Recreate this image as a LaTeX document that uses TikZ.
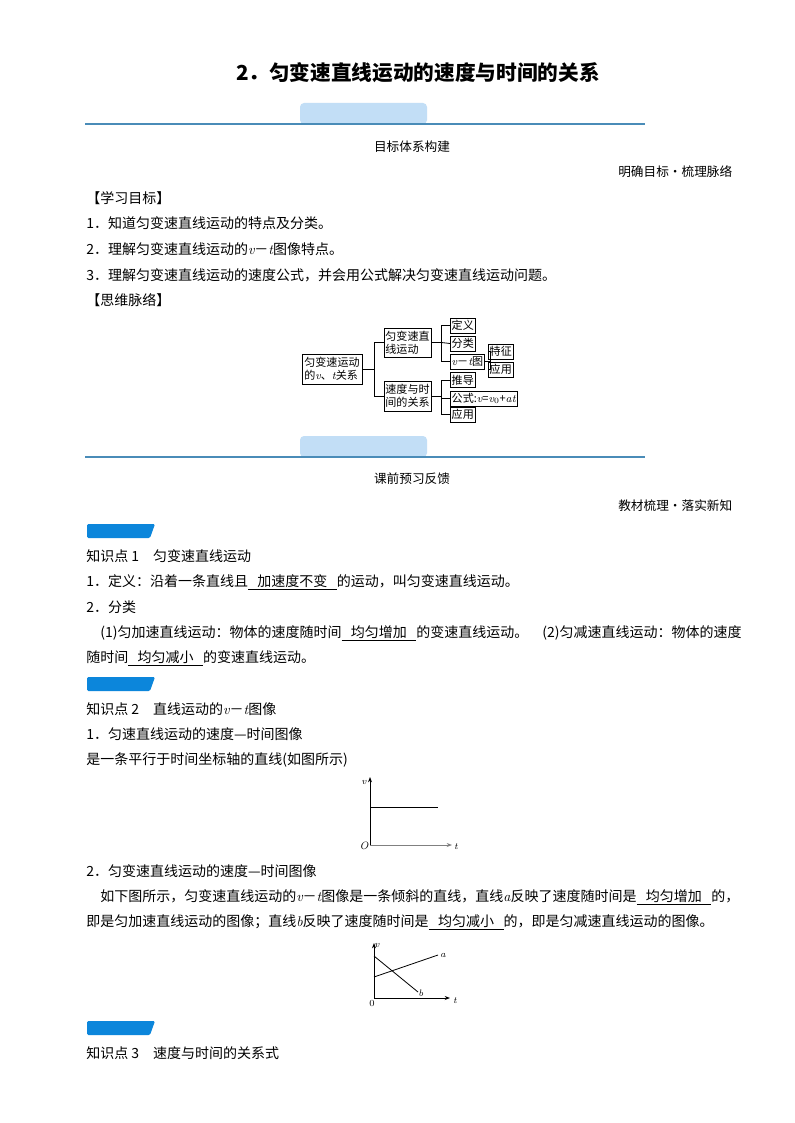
\documentclass[tikz,border=0pt]{standalone}
\usepackage{fontspec}
\setmainfont{Noto Sans CJK SC}
\newfontfamily\lmit{Latin Modern Roman}
\usetikzlibrary{arrows.meta}
\newcommand{\vv}{{\lmit\itshape v}}
\newcommand{\tvar}{{\lmit\itshape t}}
\newcommand{\blank}[1]{\underline{\hbox{\ \ \ #1\ \ \ }}}
\definecolor{tabblue}{HTML}{C2DEF6}
\definecolor{lineblue}{HTML}{4A8CB8}
\definecolor{tagblue}{HTML}{0C86DB}
\tikzset{
 txt/.style={anchor=west,inner sep=0pt,font=\fontsize{10.5pt}{12pt}\selectfont},
 mm/.style={draw,semithick,inner sep=1pt,font=\fontsize{8.3pt}{9.5pt}\selectfont,align=left},
 con/.style={semithick}
}
\begin{document}
\begin{tikzpicture}[x=0.75pt,y=-0.75pt]
\useasboundingbox[fill=white] (0,0) rectangle (794,1123);
\node[font=\fontsize{15.5pt}{17pt}\selectfont\bfseries] (title) at (418,73) {2．匀变速直线运动的速度与时间的关系};
% banner 1
\fill[tabblue,rounded corners=3pt] (300,124) -- (300,103) -- (427,103) -- (427,124) -- cycle;
\draw[lineblue,line width=1pt] (85,124) -- (645,124);
\node[font=\fontsize{9.5pt}{11pt}\selectfont] (h1) at (412,147) {目标体系构建};
\node[anchor=east,font=\fontsize{9.5pt}{11pt}\selectfont] (s1) at (737,172) {明确目标·梳理脉络};
\node[txt] (l1) at (86,198) {【学习目标】};
\node[txt] (l2) at (86,223) {1．知道匀变速直线运动的特点及分类。};
\node[txt] (l3) at (86,249) {2．理解匀变速直线运动的\vv－\tvar 图像特点。};
\node[txt] (l4) at (86,275) {3．理解匀变速直线运动的速度公式，并会用公式解决匀变速直线运动问题。};
\node[txt] (l5) at (86,300) {【思维脉络】};
% mind map
\node[mm,minimum width=60*0.75pt,minimum height=30*0.75pt] (m) at (332,369) {匀变速运动\\的\vv、\tvar 关系};
\node[mm,minimum width=47*0.75pt,minimum height=29*0.75pt] (b2) at (407.5,342.5) {匀变速直\\线运动};
\node[mm,minimum width=47*0.75pt,minimum height=30*0.75pt] (b3) at (407.5,396) {速度与时\\间的关系};
\node[mm,anchor=west,minimum height=15*0.75pt] (d1) at (450,325.5) {定义};
\node[mm,anchor=west,minimum height=15*0.75pt] (d2) at (450,343.5) {分类};
\node[mm,anchor=west,minimum height=15*0.75pt] (d3) at (450,361.5) {\vv－\tvar 图};
\node[mm,anchor=west,minimum height=15*0.75pt] (e1) at (488,351.5) {特征};
\node[mm,anchor=west,minimum height=15*0.75pt] (e2) at (488,369.5) {应用};
\node[mm,anchor=west,minimum height=15*0.75pt] (f1) at (450,380) {推导};
\node[mm,anchor=west,minimum height=15*0.75pt] (f2) at (450,398.5) {公式:\vv=\vv$_0$+{\lmit\itshape at}};
\node[mm,anchor=west,minimum height=15*0.75pt] (f3) at (450,414.5) {应用};
\draw[con] (m.east) -- ++(12,0) coordinate (j1);
\draw[con] (b2.west) -| (j1) |- (b3.west);
\draw[con] (b2.east) -- ++(10,0) coordinate (j2);
\draw[con] (d1.west) -| (j2) |- (d3.west);
\draw[con] (j2) -- (d2.west);
\draw[con] (d3.east) -- ++(5,0) coordinate (j3);
\draw[con] (e1.west) -| (j3) |- (e2.west);
\draw[con] (b3.east) -- ++(10,0) coordinate (j4);
\draw[con] (f1.west) -| (j4) |- (f3.west);
\draw[con] (j4 |- f2.west) -- (f2.west);
% banner 2
\fill[tabblue,rounded corners=3pt] (300,457) -- (300,436) -- (427,436) -- (427,457) -- cycle;
\draw[lineblue,line width=1pt] (85,457) -- (645,457);
\node[font=\fontsize{9.5pt}{11pt}\selectfont] (h2) at (412,479) {课前预习反馈};
\node[anchor=east,font=\fontsize{9.5pt}{11pt}\selectfont] (s2) at (737,506) {教材梳理·落实新知};
% tag 1
\fill[tagblue,rounded corners=1pt] (87,524) -- (155,524) -- (150,538) -- (87,538) -- cycle;
\node[txt] (k1) at (86,556) {知识点 1\quad 匀变速直线运动};
\node[txt] (p1) at (86,582) {1．定义：沿着一条直线且\blank{加速度不变}的运动，叫匀变速直线运动。};
\node[txt] (p2) at (86,607) {2．分类};
\node[txt] (p3) at (100,633) {(1)匀加速直线运动：物体的速度随时间\blank{均匀增加}的变速直线运动。\quad(2)匀减速直线运动：物体的速度};
\node[txt] (p4) at (86,658) {随时间\blank{均匀减小}的变速直线运动。};
% tag 2
\fill[tagblue,rounded corners=1pt] (87,677) -- (155,677) -- (150,691) -- (87,691) -- cycle;
\node[txt] (k2) at (86,709) {知识点 2\quad 直线运动的\vv－\tvar 图像};
\node[txt] (q1) at (86,734) {1．匀速直线运动的速度—时间图像};
\node[txt] (q2) at (86,760) {是一条平行于时间坐标轴的直线(如图所示)};
% graph 1
\coordinate (o1) at (370,845);
\draw[semithick,-{Stealth[length=4pt]}] (o1) -- (370,777) coordinate (v1);
\draw[semithick,gray,-{Stealth[length=4pt]}] (o1) -- (452,845) coordinate (t1);
\draw[semithick] (370,807) -- (438,807);
\node[font=\fontsize{7pt}{8pt}\selectfont\lmit\itshape] (lv1) at (364,782) {v};
\node[font=\fontsize{8pt}{9pt}\selectfont\lmit\itshape] (lo1) at (364,846) {O};
\node[font=\fontsize{7pt}{8pt}\selectfont\lmit\itshape] (lt1) at (456,847) {t};
\node[txt] (q3) at (86,871) {2．匀变速直线运动的速度—时间图像};
\node[txt] (q4) at (100,897) {如下图所示，匀变速直线运动的\vv－\tvar 图像是一条倾斜的直线，直线{\lmit\itshape a}反映了速度随时间是\blank{均匀增加}的，};
\node[txt] (q5) at (86,922) {即是匀加速直线运动的图像；直线{\lmit\itshape b}反映了速度随时间是\blank{均匀减小}的，即是匀减速直线运动的图像。};
% graph 2
\coordinate (o2) at (374,998);
\draw[semithick,-{Stealth[length=4pt]}] (o2) -- (374,943);
\draw[semithick,-{Stealth[length=4pt]}] (o2) -- (450,998);
\draw[semithick] (374,977) -- (438,955);
\draw[semithick] (374,956) -- (418,992);
\node[font=\fontsize{7pt}{8pt}\selectfont\lmit\itshape] (lv2) at (377,945) {v};
\node[font=\fontsize{7pt}{8pt}\selectfont\lmit\itshape] (la) at (443,955) {a};
\node[font=\fontsize{7pt}{8pt}\selectfont\lmit\itshape] (lb) at (421,993) {b};
\node[font=\fontsize{7pt}{8pt}\selectfont\lmit] (lo2) at (372,1003) {0};
\node[font=\fontsize{7pt}{8pt}\selectfont\lmit\itshape] (lt2) at (455,1001) {t};
% tag 3
\fill[tagblue,rounded corners=1pt] (87,1021) -- (155,1021) -- (150,1035) -- (87,1035) -- cycle;
\node[txt] (k3) at (86,1053) {知识点 3\quad 速度与时间的关系式};
\end{tikzpicture}
\end{document}
